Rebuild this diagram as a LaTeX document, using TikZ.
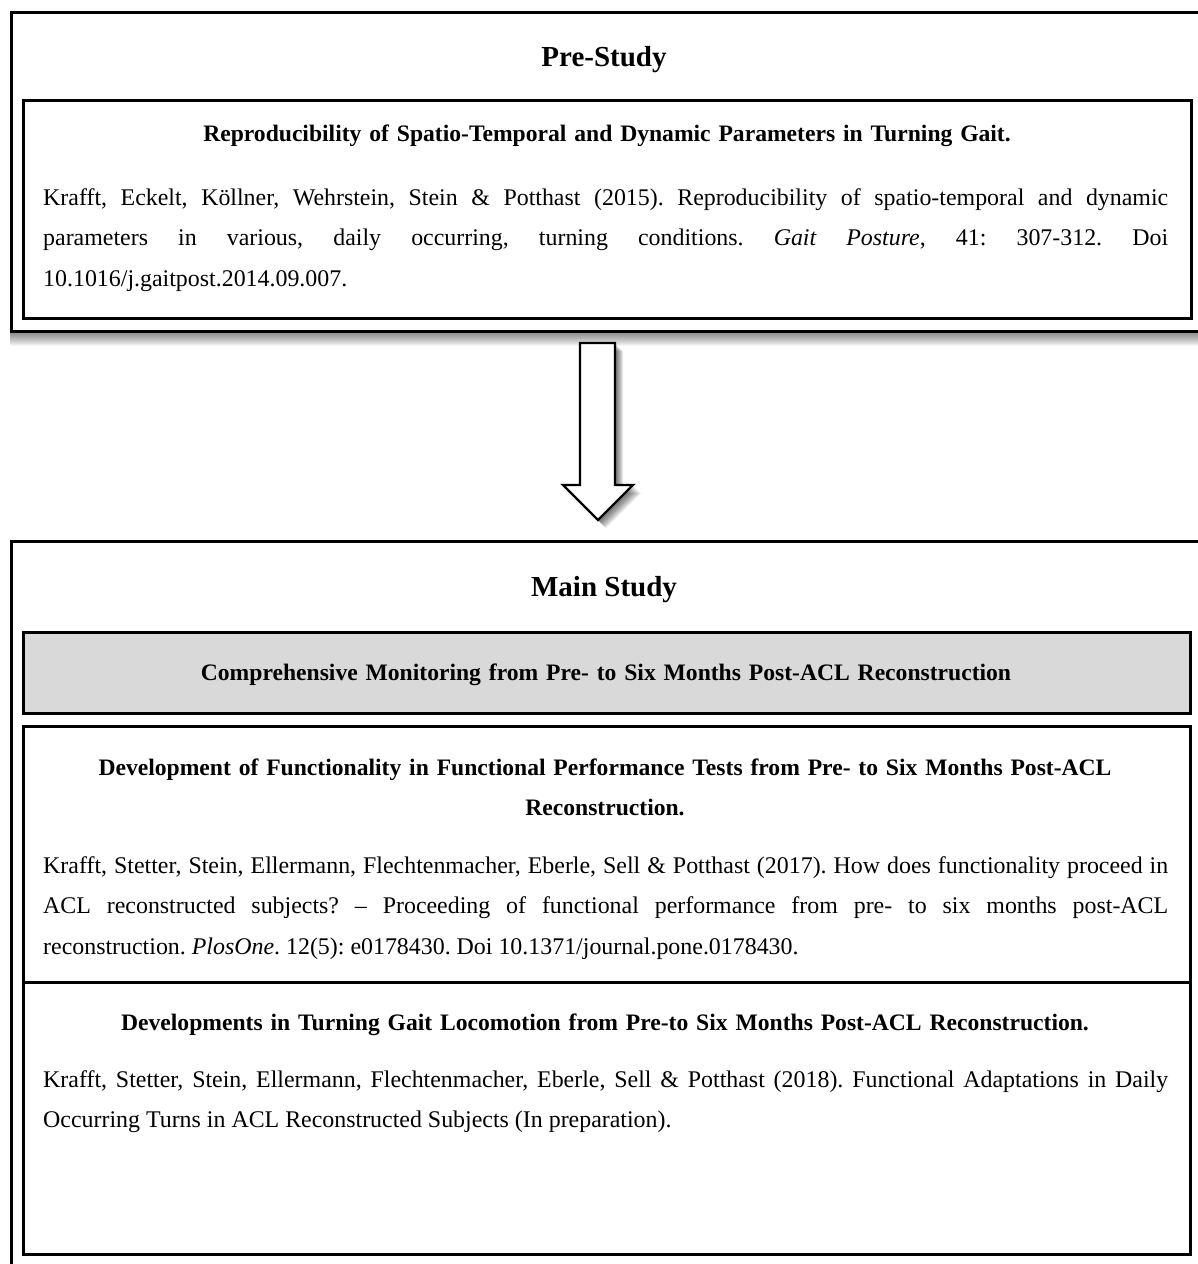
\documentclass[tikz,border=0pt]{standalone}
\usepackage{fontspec}
\setmainfont{Liberation Serif}
\usetikzlibrary{calc}
\frenchspacing
\newcommand{\bodysize}{\fontsize{23.9}{40.5}\selectfont\frenchspacing}
\newcommand{\headsize}{\fontsize{23.6}{40.5}\selectfont\frenchspacing}
\begin{document}
\begin{tikzpicture}[x=1pt,y=-1pt,
  outerbox/.style={draw=black, line width=2.8pt},
  innerbox/.style={draw=black, line width=2.6pt, fill=white},
  graybox/.style={draw=black, line width=2.6pt, fill=black!15},
  titletext/.style={font=\fontsize{29}{34}\selectfont\bfseries, anchor=base, inner sep=0pt},
  headtext/.style={font=\headsize\bfseries, anchor=base, inner sep=0pt, text width=1140pt, align=center},
  bodytext/.style={font=\bodysize, anchor=base west, inner sep=0pt, text width=1125pt, align=justify},
  blockarrow/.style={draw=black, line width=2.4pt, fill=white, line join=miter}
]
\useasboundingbox (0,0) rectangle (1198,1264);
\clip (0,0) rectangle (1198,1264);
\fill[white] (0,0) rectangle (1198,1264);

% ---------- Pre-Study ----------
\foreach \d in {1,2,...,15}{
  \fill[black, opacity=0.04] (10,331) rectangle (1210,{331+\d});
}
\node[outerbox, fill=white, anchor=north west, minimum width=1200pt, minimum height=319pt, inner sep=0pt] (pre) at (10,11) {};
\node[innerbox, anchor=north west, minimum width=1168pt, minimum height=218pt, inner sep=0pt] (prebox) at (22,99) {};
\node[titletext] (pretitle) at (604,66) {Pre-Study};
\node[headtext] (prehead) at (607,141) {Reproducibility of Spatio-Temporal and Dynamic Parameters in Turning Gait.};
\node[bodytext] (prebody) at (43,205) {Krafft, Eckelt, K\"ollner, Wehrstein, Stein \& Potthast (2015). Reproducibility of spatio-temporal and dynamic\linebreak
parameters in various, daily occurring, turning conditions. \textit{Gait Posture}, 41: 307-312. Doi\linebreak
10.1016/j.gaitpost.2014.09.007.};

% ---------- Arrow ----------
\coordinate (arrtop) at (598,343);
\coordinate (arrtip) at (598,520);
\foreach \d in {2,3,...,8}{
  \begin{scope}[transform canvas={xshift=\d pt, yshift=-\d pt}]
  \fill[black, opacity=0.09]
    ($(arrtop)+(-18,0)$) -- ($(arrtop)+(17,0)$) -- ($(arrtip)+(17,-35)$) -- ($(arrtip)+(35,-35)$) -- (arrtip) -- ($(arrtip)+(-35,-35)$) -- ($(arrtip)+(-18,-35)$) -- cycle;
  \end{scope}
}
\draw[blockarrow] ($(arrtop)+(-18,0)$) -- ($(arrtop)+(17,0)$) -- ($(arrtip)+(17,-35)$) -- ($(arrtip)+(35,-35)$) -- (arrtip) -- ($(arrtip)+(-35,-35)$) -- ($(arrtip)+(-18,-35)$) -- cycle;

% ---------- Main Study ----------
\node[outerbox, fill=white, anchor=north west, minimum width=1200pt, minimum height=760pt, inner sep=0pt] (main) at (10,540) {};
\node[titletext] (maintitle) at (604,596) {Main Study};
\node[graybox, anchor=north west, minimum width=1167pt, minimum height=81pt, inner sep=0pt] (comp) at (22,631) {};
\node[headtext] (comptext) at (606,680) {Comprehensive Monitoring from Pre- to Six Months Post-ACL Reconstruction};

\node[innerbox, anchor=north west, minimum width=1167pt, minimum height=256pt, inner sep=0pt] (devbox) at (22,725) {};
\node[innerbox, anchor=north west, minimum width=1167pt, minimum height=272pt, inner sep=0pt] (turnbox) at (22,981) {};

\node[headtext] (devhead) at (605,775) {Development of Functionality in Functional Performance Tests from Pre- to Six Months Post-ACL\\ Reconstruction.};
\node[bodytext] (devbody) at (43,873) {Krafft, Stetter, Stein, Ellermann, Flechtenmacher, Eberle, Sell \& Potthast (2017). How does functionality proceed in\linebreak
ACL reconstructed subjects? \textendash{} Proceeding of functional performance from pre- to six months post-ACL\linebreak
reconstruction. \textit{PlosOne}. 12(5): e0178430. Doi 10.1371/journal.pone.0178430.};

\node[headtext] (turnhead) at (605,1030) {Developments in Turning Gait Locomotion from Pre-to Six Months Post-ACL Reconstruction.};
\node[bodytext] (turnbody) at (43,1087) {Krafft, Stetter, Stein, Ellermann, Flechtenmacher, Eberle, Sell \& Potthast (2018). Functional Adaptations in Daily\linebreak
Occurring Turns in ACL Reconstructed Subjects (In preparation).};
\end{tikzpicture}
\end{document}
